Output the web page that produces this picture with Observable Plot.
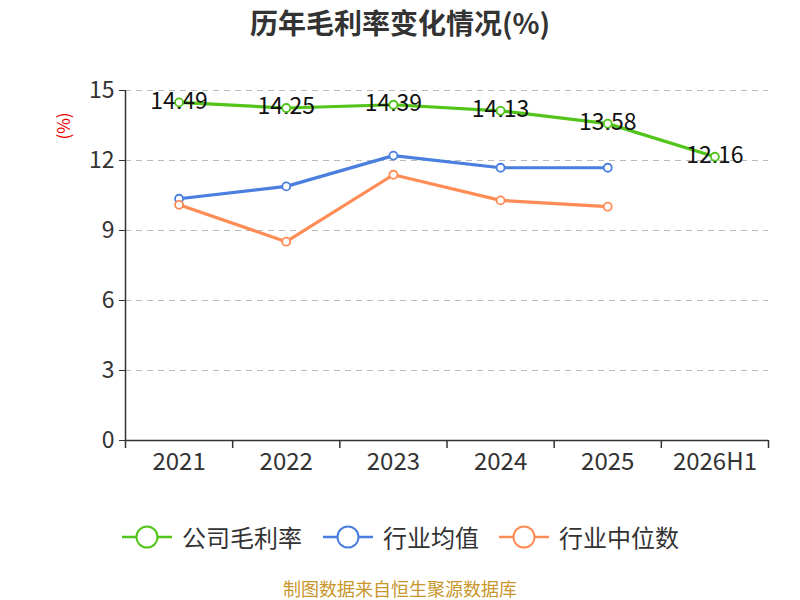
<!DOCTYPE html>
<html>
<head>
<meta charset="utf-8">
<script src="https://cdn.jsdelivr.net/npm/d3@7"></script>
<script src="https://cdn.jsdelivr.net/npm/@observablehq/plot@0.6"></script>
<style>
  html, body { margin: 0; padding: 0; background: #fff; }
  body { width: 800px; height: 600px; position: relative; overflow: hidden;
         font-family: "Noto Sans CJK SC", "Noto Sans", sans-serif; }
  #title { position: absolute; left: 0; top: 2px; width: 800px; text-align: center;
           font-size: 28px; font-weight: bold; color: #333; line-height: 40px; }
  #chart { position: absolute; left: 0; top: 50px; }
  #ylabel { position: absolute; left: 62px; top: 126px; transform: translate(-50%, -50%) rotate(-90deg);
            color: #e00; font-size: 17px; white-space: nowrap; }
  #legend { position: absolute; top: 519px; left: 0; width: 800px; height: 36px; }
  .item { position: absolute; top: 0; display: flex; align-items: center; font-size: 24px; color: #333; line-height: 36px; }
  .item svg { margin-right: 10px; }
  #caption { position: absolute; left: 0; top: 578px; width: 800px; text-align: center;
             font-size: 18px; color: #c8962a; line-height: 20px; }
</style>
</head>
<body>
<div id="title">历年毛利率变化情况(%)</div>
<div id="chart"></div>
<div id="ylabel">(%)</div>
<div id="legend"></div>
<div id="caption">制图数据来自恒生聚源数据库</div>
<script>
const categories = ["2021", "2022", "2023", "2024", "2025", "2026H1"];
const companyMargin = [14.49, 14.25, 14.39, 14.13, 13.58, 12.16];
const industryMean = [10.36, 10.89, 12.21, 11.69, 11.69];
const industryMedian = [10.10, 8.52, 11.39, 10.29, 10.02];
const yTicks = [0, 3, 6, 9, 12, 15];
const seriesNames = ["公司毛利率", "行业均值", "行业中位数"];
const seriesColors = ["#52c41a", "#4a7fe0", "#ff8c55"];

const rows = [];
[companyMargin, industryMean, industryMedian].forEach((vals, s) => {
  vals.forEach((v, i) => rows.push({series: seriesNames[s], i, cat: categories[i], value: v}));
});
const companyRows = rows.filter(d => d.series === seriesNames[0]);
const idx = categories.map((_, i) => i);
const bounds = d3.range(categories.length + 1).map(i => i - 0.5);

const chart = Plot.plot({
  width: 800,
  height: 450,
  marginTop: 40,
  marginBottom: 60,
  marginLeft: 125,
  marginRight: 32,
  style: {fontFamily: "'Noto Sans CJK SC', 'Noto Sans', sans-serif", background: "#fff"},
  x: {type: "linear", domain: [-0.5, categories.length - 0.5], axis: null},
  y: {domain: [0, 15], axis: null},
  color: {domain: seriesNames, range: seriesColors},
  marks: [
    Plot.gridY(yTicks.filter(t => t > 0), {stroke: "#bbb", strokeOpacity: 1, strokeDasharray: "6,5", strokeWidth: 1.2}),
    Plot.axisY({ticks: yTicks, tickSize: 6, tickPadding: 5, fontSize: 23, color: "#333", stroke: "#333", label: null, tickFormat: d => d}),
    Plot.ruleX([-0.5], {stroke: "#333", strokeWidth: 1.5}),
    Plot.ruleY([0], {stroke: "#333", strokeWidth: 1.5}),
    Plot.axisX({ticks: bounds, tickFormat: () => "", tickSize: 8, stroke: "#333", strokeWidth: 1.5, label: null}),
    Plot.axisX({ticks: idx, tickFormat: i => categories[i], tickSize: 0, tickPadding: 12, fontSize: 24, color: "#333", label: null}),
    Plot.line(rows, {x: "i", y: "value", z: "series", stroke: "series", strokeWidth: 3.2}),
    Plot.text(companyRows, {x: "i", y: "value", text: d => d.value.toFixed(2), fontSize: 23, fill: "#111", dy: -1}),
    Plot.dot(rows, {x: "i", y: "value", stroke: "series", fill: "#fff", r: 4, strokeWidth: 1.8})
  ]
});
document.getElementById("chart").appendChild(chart);

const legend = document.getElementById("legend");
const lefts = [122, 323, 499];
seriesNames.forEach((name, k) => {
  const item = document.createElement("div");
  item.className = "item";
  item.style.left = lefts[k] + "px";
  item.innerHTML = `<svg width="50" height="36"><line x1="0" x2="50" y1="18" y2="18" stroke="${seriesColors[k]}" stroke-width="2.5"/><circle cx="25" cy="18" r="10.5" fill="#fff" stroke="${seriesColors[k]}" stroke-width="2"/></svg><span>${name}</span>`;
  legend.appendChild(item);
});
</script>
</body>
</html>
